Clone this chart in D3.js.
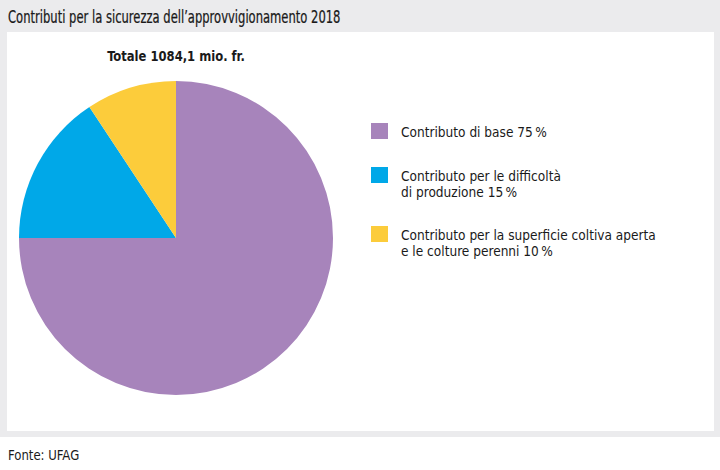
<!DOCTYPE html>
<html>
<head>
<meta charset="utf-8">
<script src="https://cdn.jsdelivr.net/npm/d3@7"></script>
<style>
  body { margin: 0; background: #fff; }
  text { font-family: "DejaVu Sans Condensed", "Liberation Sans Narrow", "Roboto", sans-serif; fill: #1a1a1a; }
</style>
</head>
<body>
<svg id="chart" width="720" height="470"></svg>
<script>
const title = 'Contributi per la sicurezza dell\u2019approvvigionamento 2018'
const totalLabel = 'Totale 1084,1 mio. fr.'
const source = 'Fonte: UFAG'

const categories = [
  ['Contributo di base 75\u2009%'],
  ['Contributo per le difficoltà', 'di produzione 15\u2009%'],
  ['Contributo per la superficie coltiva aperta', 'e le colture perenni 10\u2009%'],
]
const shares = [75, 15.7, 9.3]
const colors = ['#a784bb', '#00a8e8', '#fccc3b']

const svg = d3.select('#chart')

// il font originale è più stretto: comprimo in orizzontale
const narrow = (sel, x, y, k) => sel.attr('transform', `translate(${x},${y}) scale(${k},1)`)

// fondo grigio + pannello bianco
svg.append('rect').attr('x', 0).attr('y', 0).attr('width', 720).attr('height', 437).attr('fill', '#ebebed')
svg.append('rect').attr('x', 7).attr('y', 32).attr('width', 707).attr('height', 399).attr('fill', '#fff')

svg.append('text').attr('font-size', 18.5).attr('fill', '#111').attr('stroke', '#111').attr('stroke-width', 0.25)
  .call(narrow, 8, 23, 0.695).text(title)
svg.append('text').attr('font-size', 14).call(narrow, 8, 460, 0.93).text(source)

// torta
const cx = 176, cy = 238, r = 157
const pie = d3.pie().sort(null).value(d => d)
const arc = d3.arc().innerRadius(0).outerRadius(r)

const gPie = svg.append('g').attr('transform', `translate(${cx},${cy})`)
gPie.selectAll('path')
  .data(pie(shares))
  .join('path')
  .attr('d', arc)
  .attr('fill', (d, i) => colors[i])

svg.append('text')
  .attr('text-anchor', 'middle')
  .attr('font-size', 14)
  .attr('font-weight', 'bold')
  .call(narrow, cx, 61, 0.92)
  .text(totalLabel)

// legenda
const legendTop = [123, 167, 226]
const items = svg.append('g')
  .selectAll('g')
  .data(categories)
  .join('g')
  .attr('transform', (d, i) => `translate(371,${legendTop[i]})`)

items.append('rect').attr('width', 17).attr('height', 16).attr('fill', (d, i) => colors[i])
items.append('text')
  .attr('font-size', 14.5)
  .call(narrow, 30, 0, 0.935)
  .selectAll('tspan')
  .data(d => d)
  .join('tspan')
  .attr('x', 0)
  .attr('y', (d, j) => 14 + j * 16.5)
  .text(d => d)
</script>
</body>
</html>
